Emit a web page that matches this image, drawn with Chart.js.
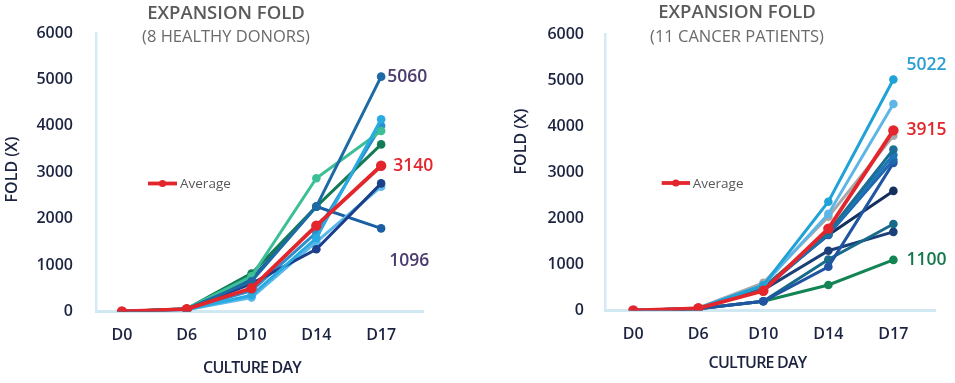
<!DOCTYPE html>
<html><head><meta charset="utf-8">
<script src="https://cdn.jsdelivr.net/npm/chart.js@4.4.0/dist/chart.umd.min.js"></script>
<style>
html,body{margin:0;padding:0;background:#fff;}
#wrap{position:relative;width:955px;height:383px;overflow:hidden;}
.box{position:absolute;top:0;height:383px;}
#b1{left:0;width:478px;} #b2{left:478px;width:477px;}
</style></head><body>
<div id="wrap"><div class="box" id="b1"><canvas id="c1"></canvas></div><div class="box" id="b2"><canvas id="c2"></canvas></div></div>
<script>
// ---- categories & ticks ----
const days = ['D0', 'D6', 'D10', 'D14', 'D17'];
const yTickValues = [0, 1000, 2000, 3000, 4000, 5000, 6000];

// ---- 8 healthy donors ----
const hdAverage = [0, 50, 500, 1850, 3140];
const hdDonor1 = [0, 55, 650, 2260, 5060];
const hdDonor2 = [0, 45, 350, 1580, 4140];
const hdDonor3 = [0, 60, 760, 2870, 3890];
const hdDonor4 = [0, 60, 820, 2260, 3600];
const hdDonor5 = [0, 50, 600, 1340, 2760];
const hdDonor6 = [0, 40, 300, 1500, 2690];
const hdDonor7 = [0, 55, 700, 2260, 1790];
const hdDonor8 = [0, 45, 450, 1700, 4000];
const hdLabelValues = [5060, 3140, 1096];
const hdLabelTexts = ['5060', '3140', '1096'];

// ---- 11 cancer patients ----
const cpAverage = [0, 48, 430, 1780, 3915];
const cpPatient1 = [0, 50, 550, 2365, 5022];
const cpPatient2 = [0, 50, 550, 2100, 4490];
const cpPatient3 = [0, 55, 600, 2040, 3800];
const cpPatient4 = [0, 45, 500, 1700, 3500];
const cpPatient5 = [0, 45, 480, 1680, 3380];
const cpPatient6 = [0, 45, 460, 1650, 3270];
const cpPatient7 = [0, 40, 200, 950, 3210];
const cpPatient8 = [0, 50, 500, 1640, 2600];
const cpPatient9 = [0, 40, 200, 1110, 1880];
const cpPatient10 = [0, 45, 450, 1300, 1710];
const cpPatient11 = [0, 40, 200, 554, 1100];
const cpLabelValues = [5022, 3915, 1100];
const cpLabelTexts = ['5022', '3915', '1100'];

const FONT = "'Open Sans', 'Noto Sans', sans-serif";
const RED = '#e2262c';

function ds(arr, color, isAvg) {
  return {
    data: arr.map((v, i) => ({x: i, y: v})),
    borderColor: color, backgroundColor: color,
    borderWidth: isAvg ? 3.8 : 3,
    pointRadius: isAvg ? 5.2 : 4.3,
    pointBorderWidth: 0,
    tension: 0
  };
}

const textPlugin = {
  id: 'textPlugin',
  afterDraw(chart, args, o) {
    const ctx = chart.ctx;
    ctx.save();
    for (const t of o.items) {
      ctx.save();
      ctx.font = t.font;
      ctx.fillStyle = t.color;
      ctx.textAlign = t.align || 'center';
      ctx.textBaseline = 'middle';
      if (t.spacing) ctx.letterSpacing = t.spacing;
      let x = t.x, y = t.y;
      if (t.value !== undefined) {
        x = chart.scales.x.getPixelForValue(4) + t.dx;
        y = chart.scales.y.getPixelForValue(t.value) + (t.dy || 0);
      }
      ctx.translate(x, y);
      if (t.rotate) ctx.rotate(t.rotate);
      ctx.fillText(t.text, 0, 0);
      ctx.restore();
    }
    // legend
    const L = o.legend;
    ctx.strokeStyle = RED; ctx.lineWidth = 3.8;
    ctx.beginPath(); ctx.moveTo(L.x1, L.y); ctx.lineTo(L.x2, L.y); ctx.stroke();
    ctx.fillStyle = RED; ctx.beginPath(); ctx.arc((L.x1 + L.x2) / 2, L.y, 3.6, 0, Math.PI * 2); ctx.fill();
    ctx.font = '13.5px ' + FONT; ctx.fillStyle = '#585858'; ctx.textAlign = 'left'; ctx.textBaseline = 'middle';
    ctx.fillText('Average', L.tx, L.y + 1);
    ctx.restore();
  }
};

function makeChart(id, sets, cfg) {
  return new Chart(document.getElementById(id), {
    type: 'line',
    data: {datasets: sets},
    plugins: [textPlugin],
    options: {
      responsive: true, maintainAspectRatio: false, animation: false,
      layout: {padding: {top: cfg.top, right: cfg.right, bottom: 0, left: 0}},
      plugins: {
        legend: {display: false}, tooltip: {enabled: false}, title: {display: false},
        textPlugin: {items: cfg.items, legend: cfg.legend}
      },
      scales: {
        x: {
          type: 'linear', min: cfg.xmin, max: cfg.xmax,
          afterBuildTicks: s => { s.ticks = days.map((d, i) => ({value: i})); },
          afterFit: s => { s.height = cfg.xh; },
          grid: {display: false, drawTicks: false},
          border: {display: true, color: '#cfe8f2', width: 3},
          ticks: {
            callback: v => days[v], padding: 14, color: '#1b2340',
            font: {family: FONT, size: 16, weight: '600'}, maxRotation: 0
          }
        },
        y: {
          min: 0, max: 6000,
          afterBuildTicks: s => { s.ticks = yTickValues.map(v => ({value: v})); },
          afterFit: s => { s.width = cfg.yw; },
          grid: {display: false, drawTicks: false},
          border: {display: true, color: '#d3ebf4', width: 2.5},
          ticks: {
            callback: v => String(v),
            padding: cfg.ypad, color: '#1b2340',
            font: {family: FONT, size: 16, weight: '600'}
          }
        }
      }
    }
  });
}

const titleFont = '600 18.5px ' + FONT;
const subFont = '16.5px ' + FONT;
const axFont = '600 16px ' + FONT;
const labFont = '600 17.5px ' + FONT;

makeChart('c1', [
  ds(hdAverage, RED, true),
  ds(hdDonor1, '#1d6aa5'),
  ds(hdDonor2, '#29aae1'),
  ds(hdDonor3, '#3cbf97'),
  ds(hdDonor4, '#137c57'),
  ds(hdDonor5, '#1c3f8c'),
  ds(hdDonor6, '#5bb8e8'),
  ds(hdDonor7, '#1a5fa3'),
  ds(hdDonor8, '#2b8fce')
], {
  top: 33, right: 55, xh: 71.5, yw: 96, ypad: 23, xmin: -0.4, xmax: 4.646,
  legend: {x1: 148, x2: 177, y: 183.5, tx: 180},
  items: [
    {text: 'EXPANSION FOLD', x: 226, y: 13.5, font: titleFont, color: '#5a5a5a'},
    {text: '(8 HEALTHY DONORS)', x: 226, y: 37, font: subFont, color: '#6a6a6a'},
    {text: 'FOLD (X)', x: 12, y: 169.5, font: axFont, color: '#1b2340', rotate: -Math.PI / 2},
    {text: 'CULTURE DAY', x: 252, y: 368, font: axFont, color: '#1b2340', spacing: '-0.8px'},
    {text: hdLabelTexts[0], value: hdLabelValues[0], dx: 6, align: 'left', font: labFont, color: '#4b3b6e'},
    {text: hdLabelTexts[1], value: hdLabelValues[1], dx: 12, align: 'left', font: labFont, color: RED},
    {text: hdLabelTexts[2], value: hdLabelValues[2], dx: 8, align: 'left', font: labFont, color: '#4b3b6e'}
  ]
});

makeChart('c2', [
  ds(cpAverage, RED, true),
  ds(cpPatient1, '#1fa2d6'),
  ds(cpPatient2, '#5db6e6'),
  ds(cpPatient3, '#a6a8ab'),
  ds(cpPatient4, '#1b6f96'),
  ds(cpPatient5, '#1c76b8'),
  ds(cpPatient6, '#2067ad'),
  ds(cpPatient7, '#1f55a3'),
  ds(cpPatient8, '#16305e'),
  ds(cpPatient9, '#186a8a'),
  ds(cpPatient10, '#1b3f78'),
  ds(cpPatient11, '#138454')
], {
  top: 34.5, right: 20, xh: 72.5, yw: 127, ypad: 21, xmin: -0.435, xmax: 4.64,
  legend: {x1: 183.7, x2: 212, y: 183, tx: 214.7},
  items: [
    {text: 'EXPANSION FOLD', x: 259, y: 13, font: titleFont, color: '#5a5a5a'},
    {text: '(11 CANCER PATIENTS)', x: 259, y: 37.5, font: subFont, color: '#6a6a6a'},
    {text: 'FOLD (X)', x: 43.7, y: 141.5, font: axFont, color: '#1b2340', rotate: -Math.PI / 2},
    {text: 'CULTURE DAY', x: 279.5, y: 363, font: axFont, color: '#1b2340', spacing: '-0.8px'},
    {text: cpLabelTexts[0], value: cpLabelValues[0], dx: 13, dy: -14, align: 'left', font: labFont, color: '#2b9fd2'},
    {text: cpLabelTexts[1], value: cpLabelValues[1], dx: 13, align: 'left', font: labFont, color: RED},
    {text: cpLabelTexts[2], value: cpLabelValues[2], dx: 13, align: 'left', font: labFont, color: '#16784e'}
  ]
});
</script>
</body></html>
